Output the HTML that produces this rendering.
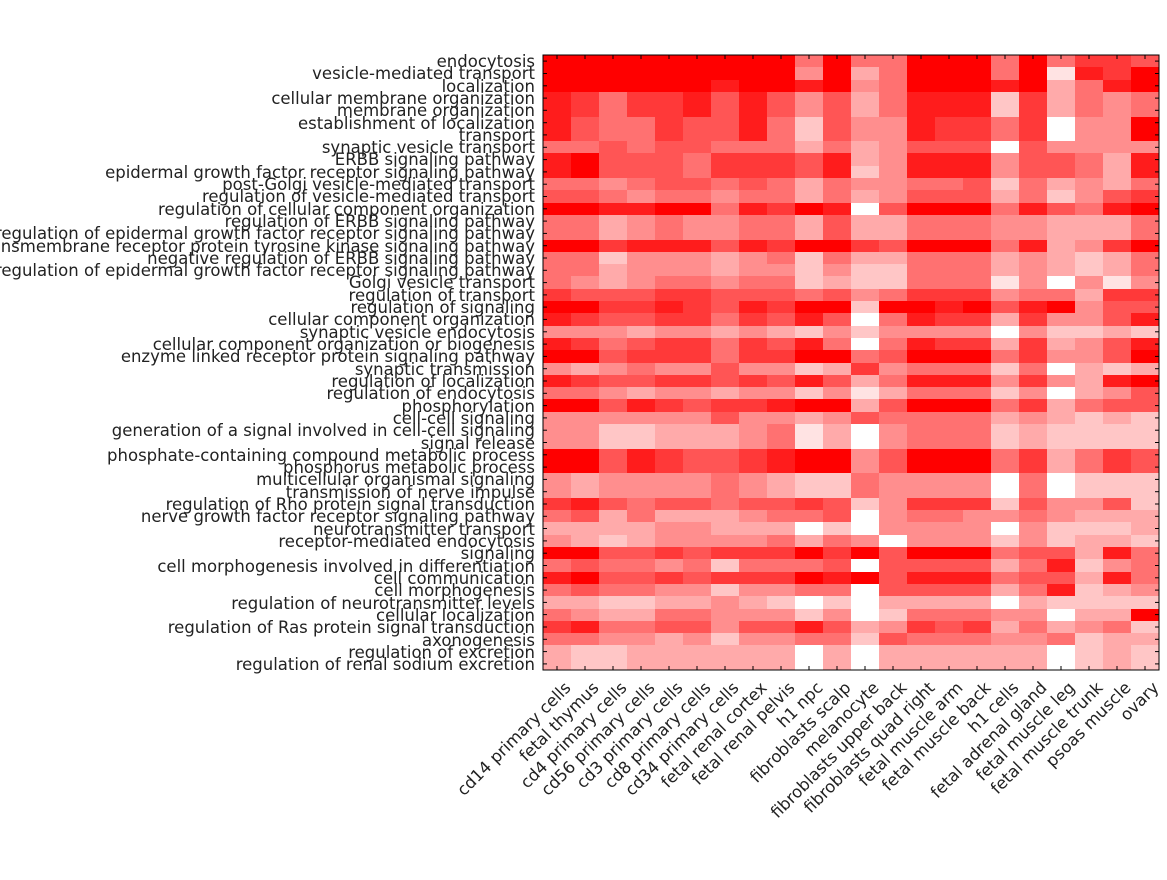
<!DOCTYPE html>
<html><head><meta charset="utf-8"><style>
body{margin:0;background:#fff;}
svg text{font-family:"DejaVu Sans","Liberation Sans",sans-serif;font-size:16.5px;fill:#222;}
</style></head><body>
<svg id="s" width="1167" height="875" xmlns="http://www.w3.org/2000/svg">
<g id="cells"></g>
<rect x="543" y="55" width="616" height="615" fill="none" stroke="#000" stroke-width="1"/>
<g id="ticks" stroke="#000" stroke-width="1"></g>
<g text-anchor="end" id="ylab">
<text x="535" y="67">endocytosis</text>
<text x="535" y="79">vesicle-mediated transport</text>
<text x="535" y="92">localization</text>
<text x="535" y="104">cellular membrane organization</text>
<text x="535" y="116">membrane organization</text>
<text x="535" y="129">establishment of localization</text>
<text x="535" y="141">transport</text>
<text x="535" y="153">synaptic vesicle transport</text>
<text x="535" y="165">ERBB signaling pathway</text>
<text x="535" y="178">epidermal growth factor receptor signaling pathway</text>
<text x="535" y="190">post-Golgi vesicle-mediated transport</text>
<text x="535" y="202">regulation of vesicle-mediated transport</text>
<text x="535" y="215">regulation of cellular component organization</text>
<text x="535" y="227">regulation of ERBB signaling pathway</text>
<text x="535" y="239">regulation of epidermal growth factor receptor signaling pathway</text>
<text x="535" y="252">transmembrane receptor protein tyrosine kinase signaling pathway</text>
<text x="535" y="264">negative regulation of ERBB signaling pathway</text>
<text x="535" y="276">negative regulation of epidermal growth factor receptor signaling pathway</text>
<text x="535" y="288">Golgi vesicle transport</text>
<text x="535" y="301">regulation of transport</text>
<text x="535" y="313">regulation of signaling</text>
<text x="535" y="325">cellular component organization</text>
<text x="535" y="338">synaptic vesicle endocytosis</text>
<text x="535" y="350">cellular component organization or biogenesis</text>
<text x="535" y="362">enzyme linked receptor protein signaling pathway</text>
<text x="535" y="375">synaptic transmission</text>
<text x="535" y="387">regulation of localization</text>
<text x="535" y="399">regulation of endocytosis</text>
<text x="535" y="412">phosphorylation</text>
<text x="535" y="424">cell-cell signaling</text>
<text x="535" y="436">generation of a signal involved in cell-cell signaling</text>
<text x="535" y="449">signal release</text>
<text x="535" y="461">phosphate-containing compound metabolic process</text>
<text x="535" y="473">phosphorus metabolic process</text>
<text x="535" y="485">multicellular organismal signaling</text>
<text x="535" y="498">transmission of nerve impulse</text>
<text x="535" y="510">regulation of Rho protein signal transduction</text>
<text x="535" y="522">nerve growth factor receptor signaling pathway</text>
<text x="535" y="535">neurotransmitter transport</text>
<text x="535" y="547">receptor-mediated endocytosis</text>
<text x="535" y="559">signaling</text>
<text x="535" y="572">cell morphogenesis involved in differentiation</text>
<text x="535" y="584">cell communication</text>
<text x="535" y="596">cell morphogenesis</text>
<text x="535" y="609">regulation of neurotransmitter levels</text>
<text x="535" y="621">cellular localization</text>
<text x="535" y="633">regulation of Ras protein signal transduction</text>
<text x="535" y="646">axonogenesis</text>
<text x="535" y="658">regulation of excretion</text>
<text x="535" y="670">regulation of renal sodium excretion</text>
</g>
<g text-anchor="end">
<text transform="translate(563,680) rotate(-45)" dy="0.75em">cd14 primary cells</text>
<text transform="translate(591,680) rotate(-45)" dy="0.75em">fetal thymus</text>
<text transform="translate(619,680) rotate(-45)" dy="0.75em">cd4 primary cells</text>
<text transform="translate(647,680) rotate(-45)" dy="0.75em">cd56 primary cells</text>
<text transform="translate(675,680) rotate(-45)" dy="0.75em">cd3 primary cells</text>
<text transform="translate(703,680) rotate(-45)" dy="0.75em">cd8 primary cells</text>
<text transform="translate(731,680) rotate(-45)" dy="0.75em">cd34 primary cells</text>
<text transform="translate(759,680) rotate(-45)" dy="0.75em">fetal renal cortex</text>
<text transform="translate(787,680) rotate(-45)" dy="0.75em">fetal renal pelvis</text>
<text transform="translate(815,680) rotate(-45)" dy="0.75em">h1 npc</text>
<text transform="translate(843,680) rotate(-45)" dy="0.75em">fibroblasts scalp</text>
<text transform="translate(871,680) rotate(-45)" dy="0.75em">melanocyte</text>
<text transform="translate(899,680) rotate(-45)" dy="0.75em">fibroblasts upper back</text>
<text transform="translate(927,680) rotate(-45)" dy="0.75em">fibroblasts quad right</text>
<text transform="translate(955,680) rotate(-45)" dy="0.75em">fetal muscle arm</text>
<text transform="translate(983,680) rotate(-45)" dy="0.75em">fetal muscle back</text>
<text transform="translate(1011,680) rotate(-45)" dy="0.75em">h1 cells</text>
<text transform="translate(1039,680) rotate(-45)" dy="0.75em">fetal adrenal gland</text>
<text transform="translate(1067,680) rotate(-45)" dy="0.75em">fetal muscle leg</text>
<text transform="translate(1095,680) rotate(-45)" dy="0.75em">fetal muscle trunk</text>
<text transform="translate(1123,680) rotate(-45)" dy="0.75em">psoas muscle</text>
<text transform="translate(1151,680) rotate(-45)" dy="0.75em">ovary</text>
</g>
</svg>
<script>
var D=[
"0000000004044000404223",
"0000000005064000408120",
"0000001001054000106410",
"1242213135364111726454",
"1242213135364111726454",
"1344233147355122429550",
"1344233147355122429550",
"4434334446465333935555",
"1033342223165111533461",
"1033342223175111533461",
"4454334346455443746564",
"3345445446465333647532",
"0011004120193000413410",
"4465455446366444556664",
"4465455446366444556664",
"0021113120023000416520",
"4475556547466444656764",
"4465556557577444656764",
"4565445447677444859585",
"2333223334354222544622",
"0022123120070010310533",
"1233224231394122625531",
"5556556567575555957767",
"1243224231494122626531",
"0032224220043000425530",
"5654553557625444749676",
"1233223231364111525610",
"4456556557586444759653",
"0031232210063000426433",
"5555553556534444656767",
"5577666548695444767777",
"5577666548695444767777",
"0031233210053000426423",
"0031233210053000426423",
"5655554567745555949777",
"5655554567745555949777",
"2134334332375222735537",
"4364666544395445545666",
"6666556669795555957776",
"5676555546459555757667",
"0033232220203000433614",
"4344547444393333641754",
"1033232220103111433614",
"4344557554493333641765",
"6677665679796666967777",
"4566445557597444559660",
"2144335331365232646547",
"4455657554473444554766",
"6776666669696666669767",
"6776666669696666669767"];
var g=document.getElementById('cells'),t=document.getElementById('ticks'),h='';
var cw=28,rh=615/50;
for(var r=0;r<50;r++){var s=D[r];for(var c=0;c<22;c++){var w=parseInt(s[c]||'5');var v=Math.min(255,Math.round(w*255/9));
var y0=Math.round(55+r*rh),y1=Math.round(55+(r+1)*rh);
h+='<rect x="'+(543+c*cw)+'" y="'+y0+'" width="'+cw+'" height="'+(y1-y0)+'" fill="rgb(255,'+v+','+v+')"/>';}}
g.innerHTML=h;
var k='';
for(var r=0;r<50;r++){var y=(55+(r+0.5)*rh).toFixed(1);k+='<line x1="543" x2="547" y1="'+y+'" y2="'+y+'"/><line x1="1155" x2="1159" y1="'+y+'" y2="'+y+'"/>';}
for(var c=0;c<22;c++){var x=543+(c+0.5)*cw;k+='<line x1="'+x+'" x2="'+x+'" y1="55" y2="59"/><line x1="'+x+'" x2="'+x+'" y1="666" y2="670"/>';}
t.innerHTML=k;
</script>
</body></html>
